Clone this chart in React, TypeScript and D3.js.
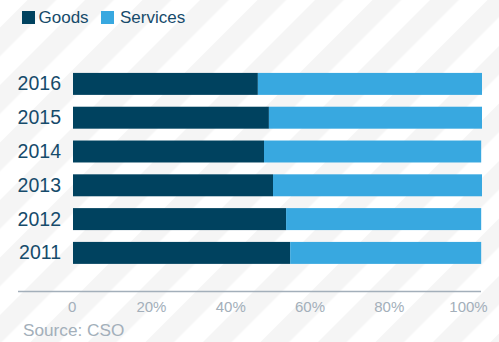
import React from "react";
import * as d3 from "d3";

const years = ["2016", "2015", "2014", "2013", "2012", "2011"];
const goods = [45.2, 47.9, 46.7, 48.9, 52.1, 53.1];
const services = [54.8, 52.1, 53.1, 51.1, 47.7, 46.7];
const ticks = [0, 20, 40, 60, 80, 100];
const tickLabels = ["0", "20%", "40%", "60%", "80%", "100%"];
const seriesNames = ["Goods", "Services"];

const W = 499;
const H = 342;
const GOODS_C = "#00425f";
const SERV_C = "#38a8e0";
const LABEL_C = "#164b6b";
const GRAY_C = "#a3afba";

export default function App() {
  const x = d3.scaleLinear().domain([0, 100]).range([73, 482]);
  const xLab = d3.scaleLinear().domain([0, 100]).range([72.2, 468.5]);
  const y = d3
    .scaleBand<string>()
    .domain(years)
    .range([67, 67 + 6 * 33.8])
    .paddingInner(0.35)
    .paddingOuter(0.175);

  const font = "'Liberation Sans', Arial, sans-serif";
  const stripe = 57.5 / Math.SQRT2;

  return (
    <svg
      width={W}
      height={H}
      style={{ position: "absolute", left: 0, top: 0, fontFamily: font }}
    >
      <defs>
        <pattern
          id="stripes"
          patternUnits="userSpaceOnUse"
          width={stripe}
          height={stripe}
          patternTransform="translate(27.5,0) rotate(45)"
        >
          <rect x={0} y={0} width={stripe} height={stripe} fill="#ffffff" />
          <rect x={0} y={0} width={stripe / 2} height={stripe} fill="#f5f5f5" />
        </pattern>
      </defs>
      <rect x={0} y={0} width={W} height={H} fill="url(#stripes)" />

      {/* legend */}
      <rect x={22} y={11} width={13} height={13} fill={GOODS_C} />
      <text x={38.5} y={23.3} fontSize={17} fill={LABEL_C}>
        {seriesNames[0]}
      </text>
      <rect x={101} y={11} width={13} height={13} fill={SERV_C} />
      <text x={120} y={23.3} fontSize={17} fill={LABEL_C}>
        {seriesNames[1]}
      </text>

      {/* bars */}
      {years.map((yr, i) => {
        const y0 = y(yr) as number;
        const bh = y.bandwidth();
        return (
          <g key={yr}>
            <rect
              x={x(0)}
              y={y0}
              width={x(goods[i]) - x(0)}
              height={bh}
              fill={GOODS_C}
            />
            <rect
              x={x(goods[i])}
              y={y0}
              width={x(goods[i] + services[i]) - x(goods[i])}
              height={bh}
              fill={SERV_C}
            />
            <text
              x={61}
              y={y0 + bh / 2 + 6.5}
              fontSize={19.5}
              textAnchor="end"
              fill={LABEL_C}
            >
              {yr}
            </text>
          </g>
        );
      })}

      {/* axis */}
      <line x1={18} x2={481} y1={291.5} y2={291.5} stroke={GRAY_C} strokeWidth={1.3} />
      {ticks.map((t, i) => (
        <text
          key={t}
          x={xLab(t)}
          y={312}
          fontSize={15}
          textAnchor="middle"
          fill={GRAY_C}
        >
          {tickLabels[i]}
        </text>
      ))}

      <text x={23} y={336} fontSize={17.2} fill={GRAY_C}>
        Source: CSO
      </text>
    </svg>
  );
}
